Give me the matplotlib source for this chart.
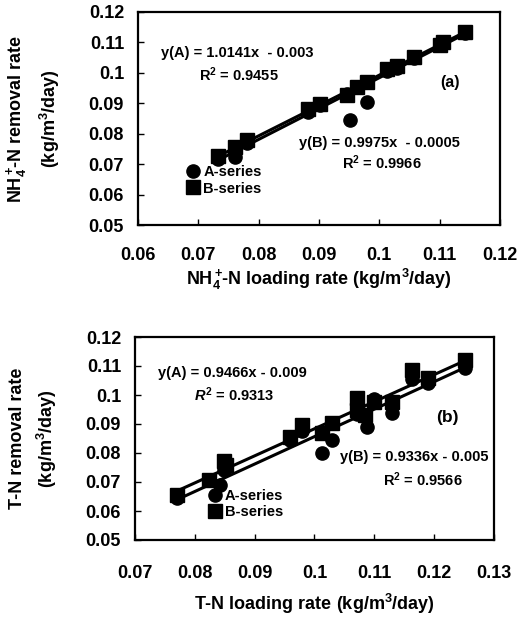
import matplotlib
matplotlib.use("Agg")
import matplotlib.pyplot as plt
import numpy as np

plt.rcParams['font.family'] = ['Liberation Sans', 'DejaVu Sans']
plt.rcParams['font.weight'] = 'bold'
plt.rcParams['axes.labelweight'] = 'bold'
plt.rcParams['mathtext.fontset'] = 'custom'
plt.rcParams['mathtext.rm'] = 'Liberation Sans:bold'
plt.rcParams['mathtext.bf'] = 'Liberation Sans:bold'
plt.rcParams['mathtext.it'] = 'Liberation Sans:bold:italic'
plt.rcParams['mathtext.default'] = 'bf'

# (a) NH4+-N loading vs removal
nh4_load_B = [0.0733, 0.0761, 0.0780, 0.0882, 0.0902, 0.0946, 0.0963, 0.0979,
              0.1012, 0.1030, 0.1057, 0.1101, 0.1106, 0.1142]
nh4_rem_B = [0.0727, 0.0755, 0.0778, 0.0881, 0.0899, 0.0926, 0.0953, 0.0970,
             0.1012, 0.1022, 0.1052, 0.1093, 0.1102, 0.1133]
nh4_load_A = [0.0733, 0.0761, 0.0780, 0.0882, 0.0902, 0.0946, 0.0952, 0.0979,
              0.1012, 0.1030, 0.1057, 0.1101, 0.1142]
nh4_rem_A = [0.0718, 0.0722, 0.0770, 0.0870, 0.0893, 0.0930, 0.0844, 0.0904,
             0.1005, 0.1015, 0.1050, 0.1090, 0.1130]
nh4_fit_A = (1.0141, -0.003)
nh4_fit_B = (0.9975, -0.0005)

# (b) T-N loading vs removal
tn_load_B = [0.0770, 0.0823, 0.0848, 0.0852, 0.0959, 0.0979, 0.1012, 0.1029,
             0.1071, 0.1071, 0.1085, 0.1099, 0.1129, 0.1163, 0.1190, 0.1252]
tn_rem_B = [0.0655, 0.0707, 0.0772, 0.0760, 0.0856, 0.0897, 0.0869, 0.0903,
            0.0990, 0.0948, 0.0931, 0.0977, 0.0977, 0.1086, 0.1059, 0.1121]
tn_load_A = [0.0770, 0.0842, 0.0848, 0.0959, 0.0979, 0.1012, 0.1029, 0.1071,
             0.1087, 0.1100, 0.1129, 0.1163, 0.1190, 0.1252]
tn_rem_A = [0.0644, 0.0690, 0.0740, 0.0845, 0.0875, 0.0800, 0.0845, 0.0935,
            0.0891, 0.0987, 0.0937, 0.1055, 0.1043, 0.1093]
tn_fit_A = (0.9466, -0.009)
tn_fit_B = (0.9336, -0.005)

fig = plt.figure(figsize=(5.21, 6.17), dpi=100)
ax1 = fig.add_axes([138 / 521, 1 - 225 / 617, 362 / 521, 213 / 617])
ax2 = fig.add_axes([135 / 521, 1 - 540 / 617, 359 / 521, 203 / 617])


def draw_panel(ax, xa, ya, xb, yb, fit_a, fit_b):
    ax.plot(xa, ya, 'o', color='black', markersize=9.5, label='A-series', zorder=3)
    ax.plot(xb, yb, 's', color='black', markersize=9.5, label='B-series', zorder=3)
    for xs, (m, c) in ((xa, fit_a), (xb, fit_b)):
        xx = np.array([min(xs), max(xs)])
        ax.plot(xx, m * xx + c, color='black', linewidth=2.2, zorder=2)
    for s in ax.spines.values():
        s.set_linewidth(1.6)
    ax.tick_params(direction='in', length=4, width=1, labelsize=13)
    ax.tick_params(axis='y', pad=10)


draw_panel(ax1, nh4_load_A, nh4_rem_A, nh4_load_B, nh4_rem_B, nh4_fit_A, nh4_fit_B)
draw_panel(ax2, tn_load_A, tn_rem_A, tn_load_B, tn_rem_B, tn_fit_A, tn_fit_B)

ax1.set_xlim(0.06, 0.12)
ax1.set_ylim(0.05, 0.12)
ax1.set_xticks(np.arange(0.06, 0.121, 0.01))
ax1.set_xticklabels(['0.06', '0.07', '0.08', '0.09', '0.1', '0.11', '0.12'])
ax1.set_yticks(np.arange(0.05, 0.121, 0.01))
ax1.set_yticklabels(['0.05', '0.06', '0.07', '0.08', '0.09', '0.1', '0.11', '0.12'])
ax1.tick_params(axis='x', pad=16)
ax1.set_xlabel(r'NH$_4^+\!$-N loading rate (kg/m$^3$/day)', fontsize=13, labelpad=2)
ax1.set_ylabel('NH$_4^+\\!$-N removal rate\n(kg/m$^3$/day)', fontsize=13,
               labelpad=19, linespacing=1.5)

ax2.set_xlim(0.07, 0.13)
ax2.set_ylim(0.05, 0.12)
ax2.set_xticks(np.arange(0.07, 0.131, 0.01))
ax2.set_xticklabels(['0.07', '0.08', '0.09', '0.1', '0.11', '0.12', '0.13'])
ax2.set_yticks(np.arange(0.05, 0.121, 0.01))
ax2.set_yticklabels(['0.05', '0.06', '0.07', '0.08', '0.09', '0.1', '0.11', '0.12'])
ax2.tick_params(axis='x', pad=18)
ax2.set_xlabel('T-N loading rate (kg/m$^3$/day)', fontsize=13, labelpad=7)
ax2.set_ylabel('T-N removal rate\n(kg/m$^3$/day)', fontsize=13,
               labelpad=19, linespacing=1.5)

# equations and panel tags
tk = dict(ha='center', va='center', fontsize=10.5)
ax1.text(0.0765, 0.1065, 'y(A) = 1.0141x  - 0.003', **tk)
ax1.text(0.0767, 0.0995, 'R$^2$ = 0.9455', **tk)
ax1.text(0.1117, 0.0969, '(a)', fontsize=11.5, ha='center', va='center')
ax1.text(0.1000, 0.0768, 'y(B) = 0.9975x  - 0.0005', **tk)
ax1.text(0.1004, 0.0705, 'R$^2$ = 0.9966', **tk)

ax2.text(0.0862, 0.1076, 'y(A) = 0.9466x - 0.009', **tk)
ax2.text(0.0866, 0.1000, '$\\mathit{R}^2$ = 0.9313', **tk)
ax2.text(0.1222, 0.0921, '(b)', fontsize=12.5, ha='center', va='center')
ax2.text(0.1166, 0.0786, 'y(B) = 0.9336x - 0.005', **tk)
ax2.text(0.1181, 0.0707, 'R$^2$ = 0.9566', **tk)

leg_kw = dict(frameon=False, fontsize=10.5, handlelength=0.6, handletextpad=0.4,
              labelspacing=0.15, borderaxespad=0, borderpad=0, loc='upper left')
ax1.legend(bbox_to_anchor=(0.14, 0.28), **leg_kw)
ax2.legend(bbox_to_anchor=(0.21, 0.25), **leg_kw)

fig.savefig('out.png', dpi=100)
